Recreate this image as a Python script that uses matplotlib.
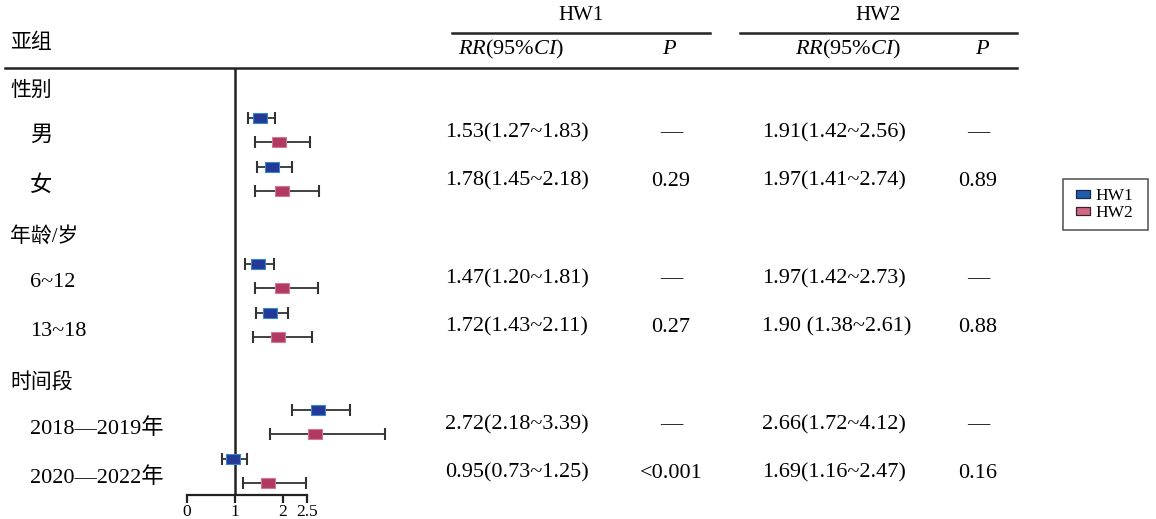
import matplotlib
matplotlib.use("Agg")
import matplotlib.pyplot as plt
from matplotlib.lines import Line2D
from matplotlib.transforms import blended_transform_factory

plt.rcParams['font.family'] = ['Liberation Serif', 'Noto Sans CJK SC', 'DejaVu Sans']
plt.rcParams['mathtext.fontset'] = 'custom'
plt.rcParams['mathtext.rm'] = 'Liberation Serif'
plt.rcParams['mathtext.it'] = 'Liberation Serif:italic'

# ---- data -------------------------------------------------------------
groups = ['性别', '年龄/岁', '时间段']
subgroups = ['男', '女', '6~12', '13~18', '2018—2019年', '2020—2022年']

hw1_rr = [1.53, 1.78, 1.47, 1.72, 2.72, 0.95]
hw1_lo = [1.27, 1.45, 1.20, 1.43, 2.18, 0.73]
hw1_hi = [1.83, 2.18, 1.81, 2.11, 3.39, 1.25]
hw1_p = ['—', '0.29', '—', '0.27', '—', '<0.001']

hw2_rr = [1.91, 1.97, 1.97, 1.90, 2.66, 1.69]
hw2_lo = [1.42, 1.41, 1.42, 1.38, 1.72, 1.16]
hw2_hi = [2.56, 2.74, 2.73, 2.61, 4.12, 2.47]
hw2_p = ['—', '0.89', '—', '0.88', '—', '0.16']
hw2_sep = ['', '', '', ' ', '', '']

x_ticks = [0, 1, 2, 2.5]
x_ticklabels = ['0', '1', '2', '2.5']

# ---- layout -------------------------------------------------------------
W, H = 1156, 519
fig = plt.figure(figsize=(W / 100, H / 100), dpi=100)

def fx(px):
    return px / W

def fy(py):
    return 1 - py / H

# row index of each group header and each subgroup
group_rows = [0, 3, 6]
sub_rows = [1, 2, 4, 5, 7, 8]

row0_px, row_step = 81.3, 48.7
ax_left_px, ax_right_px, ax_top_px, ax_bot_px = 187, 420, 68, 495
px_per_unit = 48.0

ax = fig.add_axes([fx(ax_left_px), fy(ax_bot_px),
                   fx(ax_right_px - ax_left_px), (ax_bot_px - ax_top_px) / H])
ax.set_xlim(0, (ax_right_px - ax_left_px) / px_per_unit)
ax.set_ylim((ax_bot_px - row0_px) / row_step, (ax_top_px - row0_px) / row_step)
ax.patch.set_alpha(0)

for s in ['left', 'top', 'right']:
    ax.spines[s].set_visible(False)
ax.spines['bottom'].set_bounds(0, 2.5)
ax.spines['bottom'].set_linewidth(1.6)
ax.spines['bottom'].set_color('#222222')
ax.set_yticks([])
ax.set_xticks(x_ticks)
ax.set_xticklabels(x_ticklabels)
ax.tick_params(axis='x', direction='out', length=5.5, width=1.6, color='#222222',
               labelsize=12.5, pad=0.8)

ax.axvline(1, color='#222222', lw=1.8, zorder=1)

box_marker = [(-1, -0.72), (1, -0.72), (1, 0.72), (-1, 0.72), (-1, -0.72)]
blue_face, blue_edge = '#233a96', '#3d86cc'
pink_face, pink_edge = '#b03a62', '#d27896'
offset = 0.25

for i, r in enumerate(sub_rows):
    for rr, lo, hi, dy, fc, ec in [
        (hw1_rr[i], hw1_lo[i], hw1_hi[i], -offset, blue_face, blue_edge),
        (hw2_rr[i], hw2_lo[i], hw2_hi[i], offset, pink_face, pink_edge),
    ]:
        y = r + dy
        ax.errorbar([rr], [y], xerr=[[rr - lo], [hi - rr]], fmt='none',
                    ecolor='#333333', elinewidth=1.3, capsize=4.2, capthick=1.5,
                    zorder=2, clip_on=False)
        ax.plot([rr], [y], linestyle='none', marker=box_marker, markersize=10.5,
                markerfacecolor=fc, markeredgecolor=ec, markeredgewidth=0.8,
                zorder=3, clip_on=False)

# ---- table text ------------------------------------------------------
tr = blended_transform_factory(fig.transFigure, ax.transData)
fs_cjk = 15
fs_num = 16

for g, r in zip(groups, group_rows):
    fig.text(fx(10), r + 0.2, g, transform=tr, fontsize=fs_cjk, va='center', ha='left')

for i, (s, r) in enumerate(zip(subgroups, sub_rows)):
    fig.text(fx(30), r + 0.13, s, transform=tr, fontsize=fs_num, va='center', ha='left')
    t1 = f'{hw1_rr[i]:.2f}({hw1_lo[i]:.2f}~{hw1_hi[i]:.2f})'
    t2 = f'{hw2_rr[i]:.2f}{hw2_sep[i]}({hw2_lo[i]:.2f}~{hw2_hi[i]:.2f})'
    yt = r + 0.05
    fig.text(fx(445), yt, t1, transform=tr, fontsize=fs_num, va='center', ha='left')
    fig.text(fx(671), yt, hw1_p[i], transform=tr, fontsize=fs_num, va='center', ha='center')
    fig.text(fx(762), yt, t2, transform=tr, fontsize=fs_num, va='center', ha='left')
    fig.text(fx(978), yt, hw2_p[i], transform=tr, fontsize=fs_num, va='center', ha='center')

# header
fig.text(fx(10), fy(43), '亚组', fontsize=fs_cjk, va='center', ha='left')
fig.text(fx(581), fy(16), 'HW1', fontsize=15, va='center', ha='center')
fig.text(fx(878), fy(16), 'HW2', fontsize=15, va='center', ha='center')
rr_head = r'$\mathit{RR}$(95%$\mathit{CI}$)'
fig.text(fx(458), fy(49), rr_head, fontsize=fs_num, va='center', ha='left')
fig.text(fx(669), fy(49), 'P', fontsize=fs_num, va='center', ha='center', style='italic')
fig.text(fx(795), fy(49), rr_head, fontsize=fs_num, va='center', ha='left')
fig.text(fx(982), fy(49), 'P', fontsize=fs_num, va='center', ha='center', style='italic')

for x0, x1 in [(452, 710), (740, 1017)]:
    fig.add_artist(Line2D([fx(x0), fx(x1)], [fy(33), fy(33)], color='#222222', lw=1.8))
fig.add_artist(Line2D([fx(5), fx(1017)], [fy(68), fy(68)], color='#222222', lw=1.8))

# legend
legend_marker = [(-1, -0.55), (1, -0.55), (1, 0.55), (-1, 0.55), (-1, -0.55)]
handles = [
    Line2D([], [], linestyle='none', marker=legend_marker, markersize=9.5,
           markerfacecolor='#1e5ea8', markeredgecolor='#1a2a50', markeredgewidth=0.9),
    Line2D([], [], linestyle='none', marker=legend_marker, markersize=9.5,
           markerfacecolor='#d06a84', markeredgecolor='#3a2030', markeredgewidth=0.9),
]
leg = fig.legend(handles, ['HW1', 'HW2'], loc='upper left',
                 bbox_to_anchor=(fx(1063), fy(179), fx(1148 - 1063), 0.0),
                 mode='expand', fontsize=12.5,
                 frameon=True, fancybox=False, edgecolor='#222222',
                 handlelength=1.35, handletextpad=0.02, borderpad=0.5,
                 labelspacing=0.06, borderaxespad=0)
leg.get_frame().set_linewidth(1.1)

fig.savefig('out.png', dpi=100)
